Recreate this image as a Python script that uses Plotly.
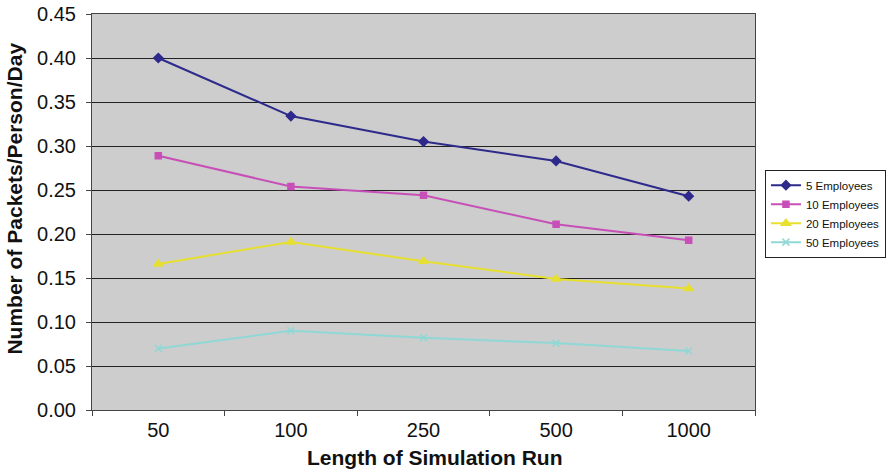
import plotly.graph_objects as go

categories = ["50", "100", "250", "500", "1000"]
emp5 = [0.400, 0.334, 0.305, 0.283, 0.243]
emp10 = [0.289, 0.254, 0.244, 0.211, 0.193]
emp20 = [0.166, 0.191, 0.169, 0.149, 0.138]
emp50 = [0.070, 0.090, 0.082, 0.076, 0.067]
y_ticks = [0.0, 0.05, 0.10, 0.15, 0.20, 0.25, 0.30, 0.35, 0.40, 0.45]

series = [
    ("5 Employees", emp5, "#2E2A8C", "diamond", 7),
    ("10 Employees", emp10, "#C84FB8", "square", 6),
    ("20 Employees", emp20, "#E8E030", "triangle-up", 8),
    ("50 Employees", emp50, "#8FD8D6", "x-thin", 7),
]

fig = go.Figure()
for name, vals, color, sym, sz in series:
    fig.add_trace(go.Scatter(
        x=categories, y=vals, name=name, mode="lines+markers",
        line=dict(color=color, width=2),
        marker=dict(symbol=sym, size=sz, color=color,
                    line=dict(color=color, width=1.5)),
    ))

fig.update_layout(
    width=887, height=474,
    margin=dict(l=92, r=132, t=14, b=64, autoexpand=False),
    paper_bgcolor="white",
    plot_bgcolor="#CCCDCC",
    font=dict(family="Liberation Sans, Arial", size=20, color="#111"),
    showlegend=True,
    legend=dict(
        x=1.015, y=0.607, xanchor="left", yanchor="top",
        bgcolor="white", bordercolor="#222", borderwidth=1,
        font=dict(size=11.5, color="#111"),
        tracegroupgap=0, itemwidth=30,
    ),
    annotations=[
        dict(text="<b>Number of Packets/Person/Day</b>", textangle=-90,
             xref="paper", yref="paper", x=-0.1161, y=0.534,
             xanchor="center", yanchor="middle", showarrow=False,
             font=dict(size=21, color="#111")),
        dict(text="<b>Length of Simulation Run</b>",
             xref="paper", yref="paper", x=0.5166, y=-0.12,
             xanchor="center", yanchor="middle", showarrow=False,
             font=dict(size=21, color="#111")),
    ],
)
fig.update_xaxes(
    type="category", range=[-0.5, len(categories) - 0.5],
    tickson="boundaries", ticks="outside", ticklen=5,
    tickcolor="#444", showgrid=False, showline=True, linecolor="#444",
    linewidth=1, mirror=True, tickfont=dict(size=20), automargin=False,
    ticklabelstandoff=2,
)
fig.update_yaxes(
    range=[0, 0.45], tickvals=y_ticks, tickformat=".2f",
    ticks="outside", ticklen=5, tickcolor="#444",
    showgrid=True, gridcolor="#222", gridwidth=1,
    showline=True, linecolor="#444", linewidth=1, mirror=True,
    zeroline=False, tickfont=dict(size=20), automargin=False,
    ticklabelstandoff=6,
)

fig.write_html(
    "out.html",
    config={"displayModeBar": False},
    post_script="document.body.style.margin='0';document.body.style.padding='0';",
)
